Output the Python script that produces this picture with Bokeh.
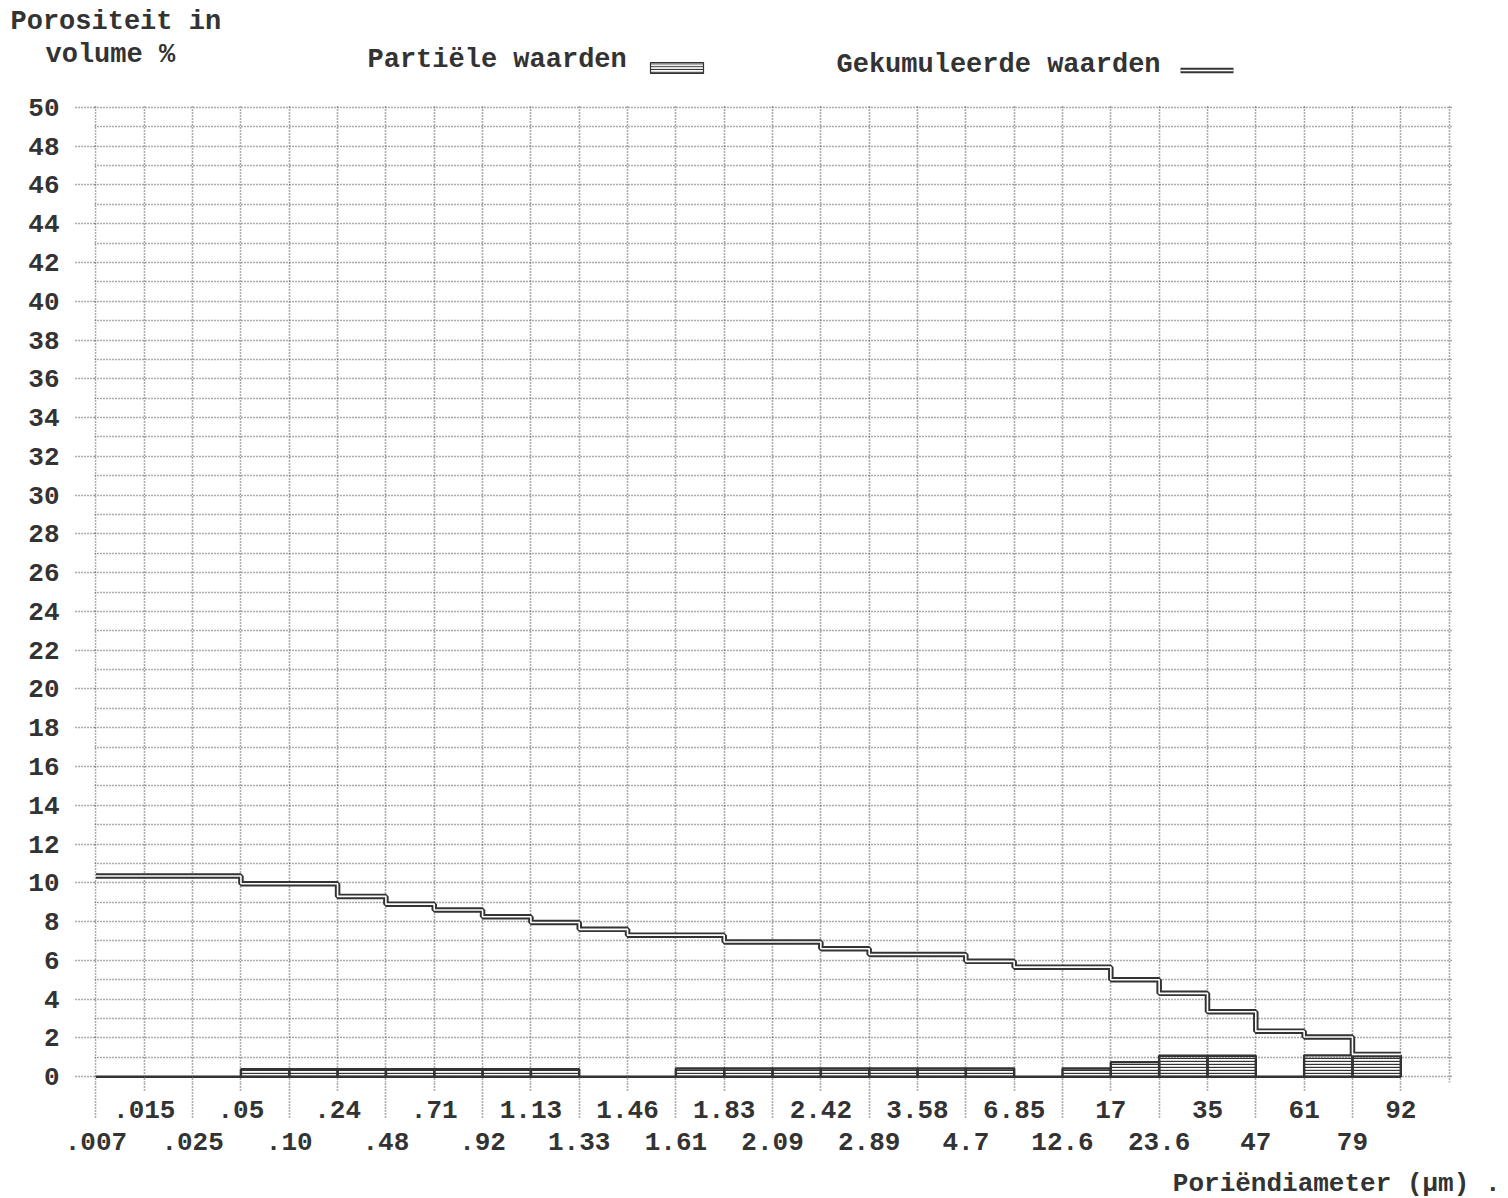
from bokeh.plotting import figure
from bokeh.models import (Range1d, FixedTicker, LinearAxis, CustomJSTickFormatter,
                          ColumnDataSource)
from bokeh.layouts import column
from bokeh.embed import file_html
from bokeh.resources import INLINE
from bokeh.core.properties import value

# ---------------- data ----------------
diameter_labels = [".007", ".015", ".025", ".05", ".10", ".24", ".48", ".71", ".92",
                   "1.13", "1.33", "1.46", "1.61", "1.83", "2.09", "2.42", "2.89",
                   "3.58", "4.7", "6.85", "12.6", "17", "23.6", "35", "47", "61",
                   "79", "92"]

# cumulative porosity (volume %) per diameter interval (27 intervals)
cumulative = [10.35, 10.35, 10.35, 9.95, 9.95, 9.3, 8.9, 8.6, 8.25, 7.95, 7.6,
              7.3, 7.3, 6.95, 6.95, 6.6, 6.3, 6.3, 5.95, 5.65, 5.65, 5.0, 4.3,
              3.35, 2.35, 2.05, 1.15]

# partial porosity (volume %) per diameter interval (27 intervals)
partial = [0.0, 0.0, 0.0, 0.38, 0.38, 0.38, 0.38, 0.38, 0.38, 0.38, 0.0, 0.0,
           0.42, 0.42, 0.42, 0.42, 0.42, 0.42, 0.42, 0.0, 0.42, 0.75, 1.08, 1.08,
           0.0, 1.1, 1.1]

y_ticks = list(range(0, 51, 2))
y_grid = list(range(0, 51))

header_texts = ["Porositeit in", "volume %", "Partiële waarden", "Gekumuleerde waarden"]
x_title = "Poriëndiameter (µm) ."

# ---------------- style ----------------
FONT = "Liberation Mono"
INK = "#333333"
GRID = "#5a5a5a"
W = 1500

n = len(diameter_labels)
idx = list(range(n))

# ---------------- header (axis title + legend) ----------------
hdr = figure(width=W, height=90, x_range=Range1d(0, W), y_range=Range1d(90, 0),
             toolbar_location=None, output_backend="svg", min_border=0,
             x_axis_location=None, y_axis_location=None)
hdr.frame_align = False
hdr.grid.visible = False
hdr.outline_line_color = None
hdr.text(x=[10, 45, 367, 836], y=[21, 54, 59, 64], text=header_texts,
         text_font=value(FONT), text_font_style="bold", text_font_size="27px",
         text_baseline="middle", text_color=INK)
# legend samples
hdr.quad(left=[650], right=[703], top=[62], bottom=[73], fill_color=None,
         hatch_pattern="horizontal_line", hatch_scale=2.8, hatch_weight=1.3,
         hatch_color=INK, line_color=INK, line_width=1.2)
hdr.line([1180, 1233], [70, 70], line_width=5.5, line_color=INK)
hdr.line([1180, 1233], [70, 70], line_width=1.6, line_color="white")

# ---------------- main chart ----------------
p = figure(frame_width=1358, frame_height=978,
           x_range=Range1d(-0.03, 28.07), y_range=Range1d(-0.3, 50.15),
           toolbar_location=None, output_backend="svg",
           min_border_left=94, min_border_right=W - 94 - 1358, min_border_top=14,
           min_border_bottom=84)
p.frame_align = False
p.outline_line_color = None
p.background_fill_color = "white"

p.xgrid.ticker = FixedTicker(ticks=list(range(n + 1)))
p.ygrid.ticker = FixedTicker(ticks=y_grid)
p.grid.grid_line_color = GRID
p.grid.grid_line_dash = "1 2"
p.grid.grid_line_width = 1.6

fmt = CustomJSTickFormatter(args=dict(labels=diameter_labels),
                            code="return labels[Math.round(tick)];")

def style_axis(ax, size="26px"):
    ax.axis_line_color = None
    ax.major_label_text_font = FONT
    ax.major_label_text_font_style = "bold"
    ax.major_label_text_font_size = size
    ax.major_label_text_color = INK

# y axis
ya = p.yaxis[0]
ya.ticker = FixedTicker(ticks=y_ticks)
style_axis(ya)
ya.major_tick_in = 0
ya.major_tick_out = 19
ya.major_tick_line_dash = "1 2"
ya.major_tick_line_color = GRID
ya.major_tick_line_width = 1.6
ya.minor_tick_line_color = None
ya.major_label_standoff = 16

# x axis, upper label row
xa = p.xaxis[0]
xa.ticker = FixedTicker(ticks=idx[1::2], minor_ticks=idx[0::2])
xa.formatter = fmt
style_axis(xa)
xa.major_tick_in = 0
xa.major_tick_out = 8
xa.minor_tick_in = 0
xa.minor_tick_out = 35
xa.major_tick_line_dash = "1 2"
xa.minor_tick_line_dash = "1 2"
xa.major_tick_line_color = GRID
xa.minor_tick_line_color = GRID
xa.major_tick_line_width = 1.6
xa.minor_tick_line_width = 1.6
xa.major_label_standoff = -17

# x axis, lower label row
xb = LinearAxis(ticker=FixedTicker(ticks=idx[0::2]), formatter=fmt)
style_axis(xb)
xb.major_tick_line_color = None
xb.minor_tick_line_color = None
xb.major_label_standoff = 6
p.add_layout(xb, "below")

# partial values: hatched bars
src_p = ColumnDataSource(dict(left=idx[:-1], right=idx[1:], top=partial,
                              bottom=[0] * len(partial)))
p.quad(left="left", right="right", top="top", bottom="bottom", source=src_p,
       fill_color=None, hatch_pattern="horizontal_line", hatch_scale=3.0,
       hatch_weight=1.4, hatch_color=INK, line_color=INK, line_width=2.4)

# cumulative values: double step line
cx = idx
cy = cumulative + [cumulative[-1]]
p.step(cx, cy, mode="after", line_width=5.5, line_color=INK)
p.step(cx, cy, mode="after", line_width=1.6, line_color="white")

# ---------------- footer (x-axis title, bottom right) ----------------
ftr = figure(width=W, height=32, x_range=Range1d(0, W), y_range=Range1d(32, 0),
             toolbar_location=None, output_backend="svg", min_border=0,
             x_axis_location=None, y_axis_location=None)
ftr.frame_align = False
ftr.grid.visible = False
ftr.outline_line_color = None
ftr.text(x=[1500], y=[17], text=[x_title], text_align="right",
         text_baseline="middle", text_font=value(FONT), text_font_style="bold",
         text_font_size="26px", text_color=INK)

layout = column(hdr, p, ftr)
open("out.html", "w").write(file_html(layout, INLINE))
